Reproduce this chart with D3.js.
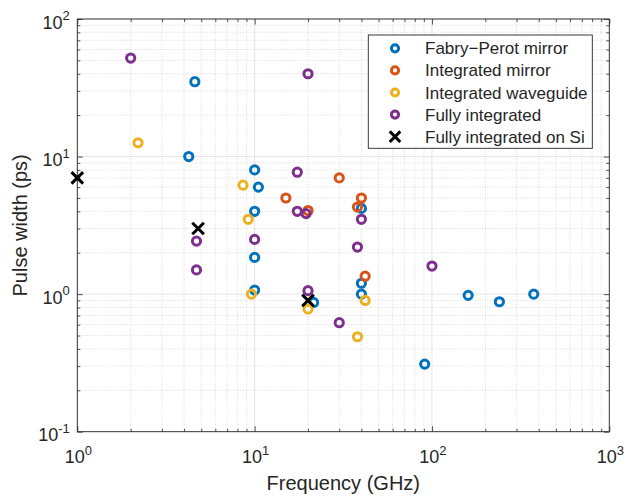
<!DOCTYPE html>
<html>
<head>
<meta charset="utf-8">
<script src="https://cdn.jsdelivr.net/npm/d3@7"></script>
<style>
  body { margin: 0; background: #fff; }
  svg { display: block; }
  text { font-family: "Liberation Sans", Arial, Helvetica, sans-serif; fill: #262626; }
</style>
</head>
<body>
<svg id="chart" width="626" height="498"></svg>
<script>
// Repetition frequency (GHz) vs pulse width (ps), one array per device class
const fabryPerot = [[4.6,35],[4.25,10],[10,8],[10.5,6],[10,4],[10,1.85],[10,1.07],[21.5,0.87],
                    [40,4.2],[40,1.2],[40,1.0],[91,0.31],[160,0.98],[240,0.88],[375,1.0]];
const integratedMirror = [[15,5],[20,4.05],[30,7],[40,5],[38,4.3],[42,1.35]];
const integratedWaveguide = [[2.2,12.6],[8.6,6.2],[9.2,3.5],[9.6,1.0],[20,0.78],[42,0.9],[38,0.49]];
const fullyIntegrated = [[2,52],[20,40],[17.4,7.7],[17.4,4.0],[19.5,3.85],[4.7,2.43],[4.7,1.5],
                         [10,2.5],[40,3.5],[38,2.2],[20,1.06],[30,0.62],[100,1.6]];
const fullyIntegratedSi = [[1,7],[4.8,3.0],[20,0.9]];

const seriesNames = ["Fabry\u2212Perot mirror","Integrated mirror","Integrated waveguide",
                     "Fully integrated","Fully integrated on Si"];
const seriesColors = ["#0072BD","#D95319","#EDB120","#7E2F8E","#000000"];
const seriesShapes = ["circle","circle","circle","circle","cross"];
const seriesData = [fabryPerot, integratedMirror, integratedWaveguide, fullyIntegrated, fullyIntegratedSi];

const xTickValues = [1,10,100,1000];
const xTickExps = ["0","1","2","3"];
const yTickValues = [0.1,1,10,100];
const yTickExps = ["-1","0","1","2"];

const xTitle = "Frequency (GHz)";
const yTitle = "Pulse width (ps)";

const svg = d3.select("#chart");
const L = 77.3, R = 609.3, T = 19, B = 431.7;

const x = d3.scaleLog().domain([1,1000]).range([L,R]);
const y = d3.scaleLog().domain([0.1,100]).range([B,T]);

const isMajor = v => Math.abs(Math.log10(v) - Math.round(Math.log10(v))) < 1e-9;
const xMinor = x.ticks().filter(v => !isMajor(v));
const yMinor = y.ticks().filter(v => !isMajor(v));

// grid: dotted minor lines under solid major lines
const grid = svg.append("g");
grid.selectAll(".xmg").data(xMinor).join("line")
  .attr("x1", d => x(d)).attr("x2", d => x(d)).attr("y1", T).attr("y2", B)
  .attr("stroke", "#d4d4d4").attr("stroke-width", 0.8).attr("stroke-dasharray", "1,1.5");
grid.selectAll(".ymg").data(yMinor).join("line")
  .attr("y1", d => y(d)).attr("y2", d => y(d)).attr("x1", L).attr("x2", R)
  .attr("stroke", "#d4d4d4").attr("stroke-width", 0.8).attr("stroke-dasharray", "1,1.5");
grid.selectAll(".xg").data(xTickValues).join("line")
  .attr("x1", d => x(d)).attr("x2", d => x(d)).attr("y1", T).attr("y2", B)
  .attr("stroke", "#dedede").attr("stroke-width", 0.8);
grid.selectAll(".yg").data(yTickValues).join("line")
  .attr("y1", d => y(d)).attr("y2", d => y(d)).attr("x1", L).attr("x2", R)
  .attr("stroke", "#dedede").attr("stroke-width", 0.8);

// axes with inward ticks on all four sides
function styleAxis(g) {
  g.select(".domain").remove();
  g.selectAll(".tick line").attr("stroke", "#262626").attr("stroke-width", 0.8);
  g.selectAll(".tick text").remove();
}
[[d3.axisBottom, B], [d3.axisTop, T]].forEach(([fn, pos]) => {
  svg.append("g").attr("transform", `translate(0,${pos})`)
    .call(fn(x).tickValues(xTickValues).tickSize(-5.5)).call(styleAxis);
  svg.append("g").attr("transform", `translate(0,${pos})`)
    .call(fn(x).tickValues(xMinor).tickSize(-3)).call(styleAxis);
});
[[d3.axisLeft, L], [d3.axisRight, R]].forEach(([fn, pos]) => {
  svg.append("g").attr("transform", `translate(${pos},0)`)
    .call(fn(y).tickValues(yTickValues).tickSize(-5.5)).call(styleAxis);
  svg.append("g").attr("transform", `translate(${pos},0)`)
    .call(fn(y).tickValues(yMinor).tickSize(-3)).call(styleAxis);
});
svg.append("rect").attr("x", L).attr("y", T).attr("width", R - L).attr("height", B - T)
  .attr("fill", "none").attr("stroke", "#262626").attr("stroke-width", 0.9);

// tick labels: base 10 with superscript exponent
function powerLabel(sel) {
  sel.append("tspan").text("10");
  sel.append("tspan").attr("dy", -8.5).attr("font-size", 13).text(d => d.exp);
}
svg.append("g").selectAll("text").data(xTickValues.map((v, i) => ({v, exp: xTickExps[i]})))
  .join("text").attr("x", d => x(d.v) + 1).attr("y", 463).attr("font-size", 18)
  .attr("text-anchor", "middle").call(powerLabel);
svg.append("g").selectAll("text").data(yTickValues.map((v, i) => ({v, exp: yTickExps[i]})))
  .join("text").attr("x", L - 7.5).attr("y", d => y(d.v) + 9.5).attr("font-size", 18)
  .attr("text-anchor", "end").call(powerLabel);

// axis titles
svg.append("text").attr("x", (L + R) / 2).attr("y", 490).attr("text-anchor", "middle")
  .attr("font-size", 20).text(xTitle);
svg.append("text").attr("transform", `translate(27,${(T + B) / 2}) rotate(-90)`)
  .attr("text-anchor", "middle").attr("font-size", 20).text(yTitle);

// markers: open circles and crosses
function drawMarker(g, shape, color, size) {
  if (shape === "circle") {
    g.append("circle").attr("r", size).attr("fill", "none")
      .attr("stroke", color).attr("stroke-width", 3);
  } else {
    const s = size + 1.7;
    g.append("path").attr("d", `M${-s},${-s}L${s},${s}M${-s},${s}L${s},${-s}`)
      .attr("stroke", color).attr("stroke-width", 3).attr("fill", "none");
  }
}
const plot = svg.append("g");
seriesData.forEach((data, k) => {
  plot.append("g").selectAll("g").data(data).join("g")
    .attr("transform", d => `translate(${x(d[0])},${y(d[1])})`)
    .each(function() { drawMarker(d3.select(this), seriesShapes[k], seriesColors[k], 4.1); });
});

// legend
const lg = svg.append("g");
lg.append("rect").attr("x", 368.3).attr("y", 35).attr("width", 224).attr("height", 113.3)
  .attr("fill", "#fff").attr("stroke", "#262626").attr("stroke-width", 0.9);
seriesNames.forEach((name, k) => {
  const cy = 48.3 + k * 22.1;
  const g = lg.append("g").attr("transform", `translate(395,${cy})`);
  drawMarker(g, seriesShapes[k], seriesColors[k], 3.6);
  lg.append("text").attr("x", 425).attr("y", cy + 6).attr("font-size", 17).text(name);
});
</script>
</body>
</html>
